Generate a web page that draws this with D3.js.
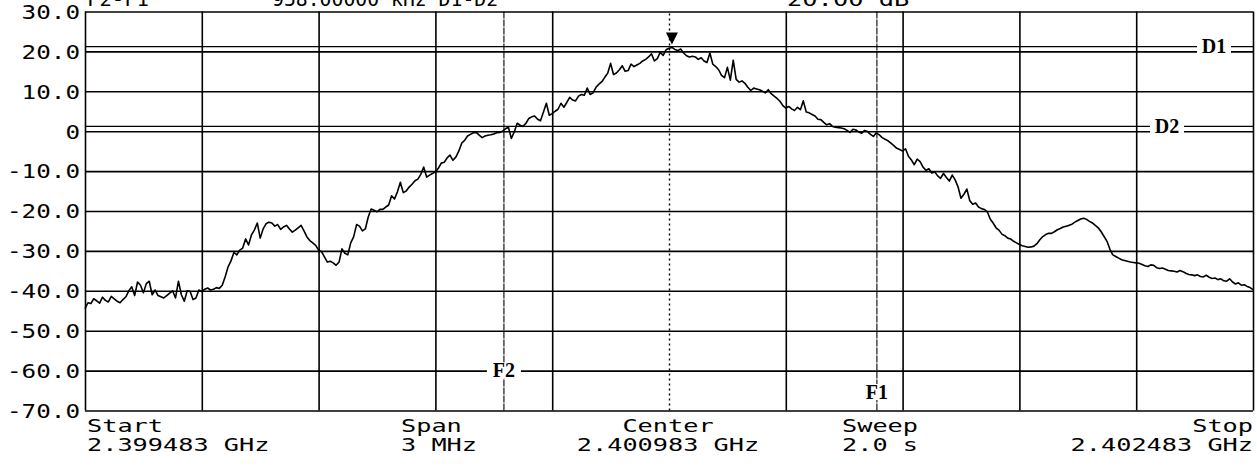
<!DOCTYPE html>
<html>
<head>
<meta charset="utf-8">
<script src="https://cdn.jsdelivr.net/npm/d3@7"></script>
<style>
  html, body { margin: 0; padding: 0; background: #fff; }
  svg { display: block; }
  text { font-family: "DejaVu Sans Mono", monospace; fill: #000; }
</style>
</head>
<body>
<svg id="chart" width="1257" height="466"></svg>
<script>
// Spectrum analyser screen: 2.399483 – 2.402483 GHz, 10 dB/div

const spanMHz = 3;

const levelTicks  = [30, 20, 10, 0, -10, -20, -30, -40, -50, -60, -70];
const levelLabels = ["30.0", "20.0", "10.0", "0", "-10.0", "-20.0", "-30.0", "-40.0", "-50.0", "-60.0", "-70.0"];

const freqDivisions = [0, 0.3, 0.6, 0.9, 1.2, 1.5, 1.8, 2.1, 2.4, 2.7, 3.0];
const centerMHz = 1.5;

// measured trace, dBm, 401 points evenly spaced over the span (one row per division)
const traceDb = [
  -44.5,
  -43.0, -43.2, -42.0, -42.5, -43.1, -41.6, -42.4, -42.8, -41.4, -42.0, -42.6, -43.0, -42.2, -41.5, -40.0, -39.0, -41.2, -37.8, -38.6, -40.5,
  -38.2, -37.6, -41.0, -39.8, -41.2, -41.5, -41.8, -41.2, -40.6, -40.0, -41.8, -37.6, -41.0, -42.6, -40.0, -40.2, -42.2, -41.8, -39.8, -40.2,
  -39.6, -39.3, -39.8, -39.6, -39.2, -39.4, -38.6, -36.5, -34.0, -32.5, -30.4, -31.0, -29.8, -29.3, -27.0, -28.5, -26.0, -24.8, -23.0, -26.8,
  -24.5, -23.2, -22.8, -23.0, -23.8, -23.4, -24.6, -24.0, -23.6, -24.5, -25.3, -24.8, -24.2, -23.6, -25.0, -26.5, -27.4, -28.0, -28.6, -29.8,
  -30.2, -31.5, -32.8, -32.6, -33.0, -33.6, -32.8, -29.5, -30.6, -31.0, -28.0, -26.5, -23.4, -23.8, -25.0, -24.5, -21.5, -19.5, -19.8, -20.2,
  -19.6, -19.6, -19.0, -18.5, -16.2, -17.0, -15.2, -12.8, -15.4, -15.0, -14.0, -13.3, -12.4, -12.0, -10.8, -9.0, -11.5, -11.0, -10.6, -10.2,
  -9.3, -8.0, -7.8, -6.7, -6.0, -7.3, -6.5, -5.0, -3.0, -2.3, -1.2, -0.8, -0.4, -0.3, -1.0, -1.6, -1.2, -1.0, -0.9, -0.7,
  -0.4, -0.3, 0.0, 0.6, 1.0, -1.8, -0.2, 2.0, 1.5, 1.2, 2.0, 3.2, 3.6, 3.8, 3.0, 2.6, 4.8, 7.0, 4.0, 4.4,
  5.0, 5.5, 7.0, 6.0, 7.2, 8.5, 7.8, 7.6, 8.8, 9.2, 9.0, 10.8, 9.2, 9.6, 11.0, 11.8, 12.4, 13.5, 14.5, 17.0,
  14.2, 14.6, 15.4, 16.4, 15.0, 15.2, 16.8, 16.2, 16.6, 17.0, 17.6, 18.0, 18.6, 19.4, 17.6, 18.2, 19.8, 19.0, 20.4, 20.8,
  21.0, 20.5, 20.2, 20.6, 19.6, 18.9, 18.6, 18.8, 18.6, 18.0, 18.4, 17.6, 17.2, 19.6, 16.8, 16.2, 15.4, 14.0, 13.4, 16.0,
  12.8, 17.8, 13.0, 12.3, 12.6, 12.0, 11.0, 10.2, 10.8, 10.6, 10.4, 10.0, 9.6, 10.4, 9.4, 8.8, 8.2, 7.5, 6.4, 5.8,
  6.2, 5.6, 5.2, 6.0, 5.4, 7.6, 4.8, 4.6, 4.2, 3.8, 3.0, 2.9, 2.2, 1.6, 1.9, 1.2, 1.0, 0.9, 0.8, 0.6,
  0.2, -0.3, 0.5, 0.3, -0.2, -0.5, 0.2, -0.1, -0.8, -1.3, -0.4, -0.9, -1.6, -2.0, -2.4, -3.0, -3.6, -4.3, -4.6, -5.0,
  -4.4, -6.3, -7.2, -8.4, -7.0, -7.6, -9.0, -9.8, -9.4, -10.5, -10.2, -11.2, -11.8, -10.6, -11.6, -12.5, -11.0, -12.2, -14.0, -16.8,
  -15.8, -14.5, -17.4, -18.3, -18.0, -19.0, -19.4, -19.6, -20.2, -22.0, -23.0, -24.2, -24.8, -25.8, -26.2, -26.8, -27.0, -27.6, -28.0, -28.4,
  -28.7, -28.9, -29.1, -29.0, -28.8, -28.2, -27.2, -26.4, -25.9, -25.6, -25.6, -25.2, -24.7, -24.4, -24.0, -23.8, -23.6, -23.3, -22.8, -22.4,
  -22.0, -21.8, -22.1, -22.6, -23.0, -23.6, -24.2, -25.2, -26.4, -27.6, -29.6, -31.0, -31.4, -31.8, -32.2, -32.4, -32.6, -32.8, -32.9, -33.0,
  -33.1, -33.4, -33.7, -33.9, -33.5, -33.6, -34.2, -34.4, -34.3, -34.6, -34.9, -35.0, -35.1, -35.3, -34.9, -35.2, -35.6, -35.9, -36.0, -36.2,
  -36.0, -36.4, -36.5, -36.1, -36.6, -36.9, -36.8, -37.2, -37.0, -37.5, -37.6, -37.0, -37.8, -38.3, -38.0, -38.6, -38.5, -38.9, -39.2, -39.7
];

const levelMarkerNames = ["D1", "D2"];
const levelMarkerDb    = [21.2, 1.2];

const freqMarkerNames = ["F2", "F1"];
const freqMarkerMHz   = [1.076, 2.034];

const headerTexts = ["F2-F1", "958.00000 kHz D1-D2", "20.00 dB"];

const footerTitles = ["Start", "Span", "Center", "Sweep", "Stop"];
const footerValues = ["2.399483 GHz", "3 MHz", "2.400983 GHz", "2.0 s", "2.402483 GHz"];

// ---- layout -------------------------------------------------------------
const plotLeft = 85, plotRight = 1253, plotTop = 11.5, plotBottom = 410.5;
const plotW = plotRight - plotLeft, plotH = plotBottom - plotTop;

const svg = d3.select("#chart");

const x = d3.scaleLinear().domain([0, spanMHz]).range([plotLeft, plotRight]);
const y = d3.scaleLinear().domain([-70, 30]).range([plotBottom, plotTop]);

// stretch fixed-pitch text to the instrument's wide character cell
function pitch(sel, w) {
  sel.attr("textLength", function () { return this.textContent.length * w; })
     .attr("lengthAdjust", "spacingAndGlyphs");
}

// ---- graticule ----------------------------------------------------------
const yAxis = svg.append("g")
  .attr("transform", `translate(${plotLeft},0)`)
  .call(d3.axisLeft(y)
    .tickValues(levelTicks)
    .tickSize(-plotW)
    .tickPadding(5)
    .tickFormat((d, i) => levelLabels[i]));
yAxis.select(".domain").remove();
yAxis.selectAll(".tick line").attr("stroke", "#000").attr("stroke-width", 1.6);
yAxis.selectAll(".tick text")
  .attr("font-size", 19)
  .attr("font-family", "DejaVu Sans Mono, monospace")
  .attr("dy", "0.36em")
  .call(pitch, 14.6);

const xAxis = svg.append("g")
  .attr("transform", `translate(0,${plotBottom})`)
  .call(d3.axisBottom(x)
    .tickValues(freqDivisions)
    .tickSize(-plotH)
    .tickFormat(""));
xAxis.select(".domain").remove();
xAxis.selectAll(".tick line")
  .attr("stroke", "#000")
  .attr("stroke-dasharray", d => Math.abs(d - centerMHz) < 1e-9 ? "2,3" : null)
  .attr("stroke-width", d => Math.abs(d - centerMHz) < 1e-9 ? 1.4 : 1.6);

// ---- level (D) and frequency (F) marker lines -----------------------------
svg.append("g").selectAll("line")
  .data(levelMarkerDb)
  .join("line")
  .attr("x1", plotLeft).attr("x2", plotRight)
  .attr("y1", d => y(d)).attr("y2", d => y(d))
  .attr("stroke", "#000").attr("stroke-width", 1.4);

svg.append("g").selectAll("line")
  .data(freqMarkerMHz)
  .join("line")
  .attr("x1", d => x(d)).attr("x2", d => x(d))
  .attr("y1", plotTop).attr("y2", plotBottom)
  .attr("stroke", "#000").attr("stroke-width", 1.1)
  .attr("stroke-dasharray", "7,1");

// ---- trace --------------------------------------------------------------
const stepMHz = spanMHz / (traceDb.length - 1);
const line = d3.line()
  .x((d, i) => x(i * stepMHz))
  .y(d => y(d));

svg.append("path")
  .datum(traceDb)
  .attr("d", line)
  .attr("fill", "none")
  .attr("stroke", "#000")
  .attr("stroke-width", 1.6)
  .attr("stroke-linejoin", "round");

// peak marker
const peakIdx = d3.maxIndex(traceDb);
const px = x(peakIdx * stepMHz), py = y(traceDb[peakIdx]) - 3;
svg.append("path")
  .attr("d", `M${px - 6},${py - 12}L${px + 6},${py - 12}L${px},${py}Z`)
  .attr("fill", "#000");

// ---- marker labels ------------------------------------------------------
function markerLabel(txt, cx, cy) {
  const g = svg.append("g");
  const w = 30, h = 16;
  g.append("rect")
    .attr("x", cx - w / 2 - 2).attr("y", cy - h / 2)
    .attr("width", w + 4).attr("height", h)
    .attr("fill", "#fff");
  g.append("text")
    .attr("x", cx).attr("y", cy)
    .attr("dy", "0.34em")
    .attr("text-anchor", "middle")
    .attr("font-weight", "bold")
    .attr("font-size", 20)
    .style("font-family", "'Liberation Serif', serif")
    .text(txt);
}
markerLabel(levelMarkerNames[0], 1214, y(levelMarkerDb[0]));
markerLabel(levelMarkerNames[1], 1167, y(levelMarkerDb[1]));
markerLabel(freqMarkerNames[0], x(freqMarkerMHz[0]), y(-60));
markerLabel(freqMarkerNames[1], x(freqMarkerMHz[1]), 392);

// ---- header (runs off the top edge of the screen) ----------------------
const header = svg.append("g").attr("font-size", 19);
header.append("text").attr("x", 87).attr("y", 6).text(headerTexts[0]).call(pitch, 12.4);
header.append("text").attr("x", 272).attr("y", 6).text(headerTexts[1]).call(pitch, 11.9);
header.append("text").attr("x", 787).attr("y", 6).text(headerTexts[2]).call(pitch, 15.3);

// ---- footer -------------------------------------------------------------
const footerX      = [87, 401, 668, 842, 1253];
const footerAnchor = ["start", "start", "middle", "start", "end"];
const footer = svg.append("g").attr("font-size", 18);
footerTitles.forEach((t, i) => {
  footer.append("text")
    .attr("x", footerX[i]).attr("y", 432)
    .attr("text-anchor", footerAnchor[i])
    .text(t).call(pitch, 15.2);
  footer.append("text")
    .attr("x", footerX[i]).attr("y", 451)
    .attr("text-anchor", footerAnchor[i])
    .text(footerValues[i]).call(pitch, 15.2);
});
</script>
</body>
</html>
